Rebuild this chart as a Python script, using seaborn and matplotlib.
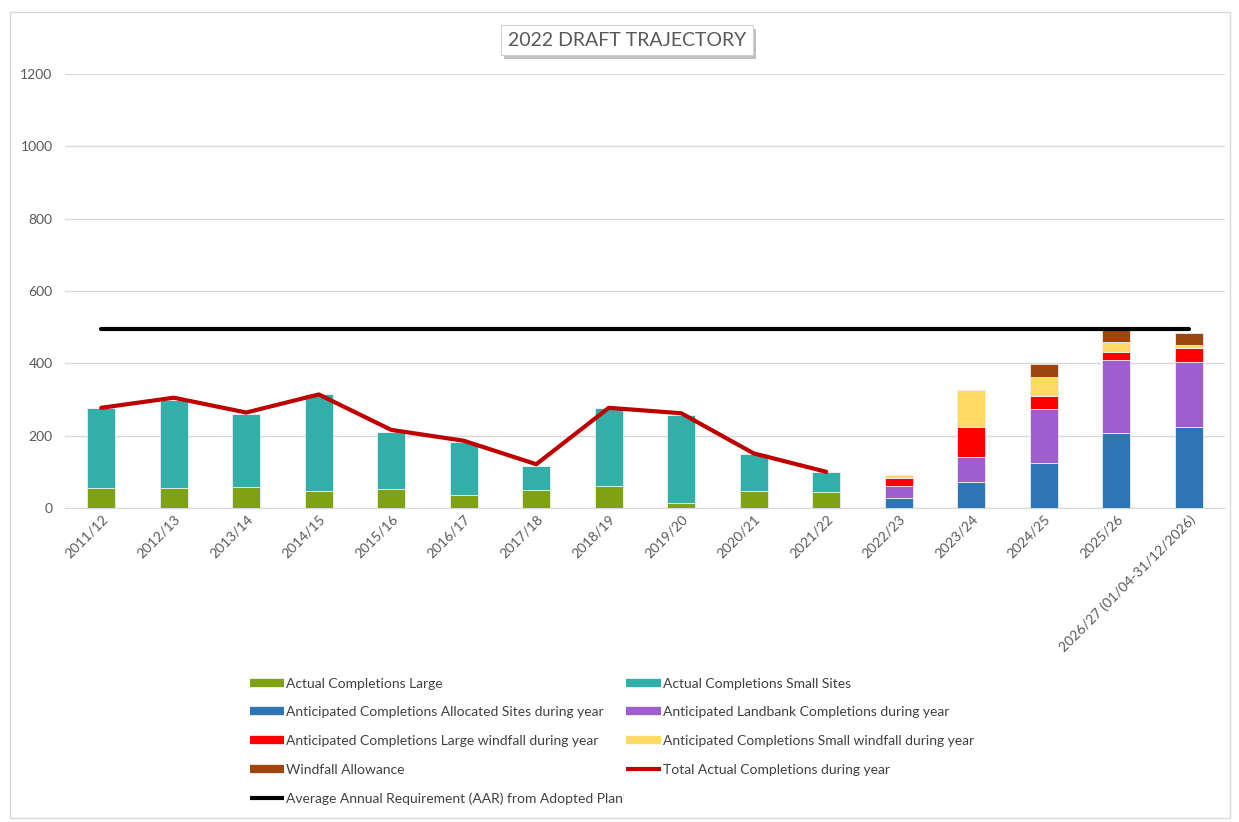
import numpy as np
import pandas as pd
import matplotlib
matplotlib.use("Agg")
import matplotlib.pyplot as plt
import matplotlib.patheffects as pe
from matplotlib.lines import Line2D
from matplotlib.patches import Rectangle
import seaborn as sns

# --- data ---
years = ["2011/12", "2012/13", "2013/14", "2014/15", "2015/16", "2016/17", "2017/18",
         "2018/19", "2019/20", "2020/21", "2021/22", "2022/23", "2023/24", "2024/25",
         "2025/26", "2026/27 (01/04-31/12/2026)"]

actual_large = [54, 54, 57, 48, 52, 37, 50, 62, 15, 48, 45, 0, 0, 0, 0, 0]
actual_small = [222, 245, 203, 266, 159, 146, 67, 214, 243, 100, 55, 0, 0, 0, 0, 0]
allocated = [0, 0, 0, 0, 0, 0, 0, 0, 0, 0, 0, 28, 72, 125, 206, 225]
landbank = [0, 0, 0, 0, 0, 0, 0, 0, 0, 0, 0, 34, 68, 148, 202, 178]
large_windfall = [0, 0, 0, 0, 0, 0, 0, 0, 0, 0, 0, 20, 85, 36, 24, 40]
small_windfall = [0, 0, 0, 0, 0, 0, 0, 0, 0, 0, 0, 9, 101, 52, 26, 7]
windfall_allowance = [0, 0, 0, 0, 0, 0, 0, 0, 0, 0, 0, 0, 0, 37, 34, 33]
total_actual = [277, 305, 264, 314, 216, 186, 121, 277, 262, 151, 100]
aar = [495] * len(years)

layers = [
    ("Actual Completions Large", actual_large, "#7FA114"),
    ("Actual Completions Small Sites", actual_small, "#33AFA9"),
    ("Anticipated Completions Allocated Sites during year", allocated, "#2E75B6"),
    ("Anticipated Landbank Completions during year", landbank, "#9E5ECE"),
    ("Anticipated Completions Large windfall during year", large_windfall, "#FF0000"),
    ("Anticipated Completions Small windfall during year", small_windfall, "#FFD966"),
    ("Windfall Allowance", windfall_allowance, "#9C450E"),
]

sns.set_style("white")
plt.rcParams["font.family"] = ["Lato", "DejaVu Sans"]

fig = plt.figure(figsize=(12.39, 8.22), dpi=100)
ax = fig.add_axes([65 / 1239, 1 - 508 / 822, 1160 / 1239, 434 / 822])

# stacked bars, one seaborn call per layer
bottom = np.zeros(len(years))
for name, vals, col in layers:
    df = pd.DataFrame({"year": years, "value": vals})
    sns.barplot(data=df, x="year", y="value", color=col, saturation=1, width=0.39,
                bottom=bottom.copy(), edgecolor="#E8F0F0", linewidth=0.6, ax=ax, zorder=3)
    bottom += np.array(vals)

idx = np.arange(len(years))
sns.lineplot(x=idx[:len(total_actual)], y=total_actual, color="#C00000", lw=3, ax=ax, zorder=4)
sns.lineplot(x=idx, y=aar, color="black", lw=3, ax=ax, zorder=4)

ax.set_xlim(-0.5, len(years) - 0.5)
ax.set_ylim(0, 1200)
ax.set_yticks(range(0, 1201, 200))
ax.yaxis.grid(True, color="#D9D9D9", lw=1)
ax.set_axisbelow(True)
for s in ["top", "right", "left"]:
    ax.spines[s].set_visible(False)
ax.spines["bottom"].set_color("#D9D9D9")
ax.set_xlabel("")
ax.set_ylabel("")
ax.tick_params(axis="both", length=0, colors="#595959", labelsize=10)
ax.tick_params(axis="y", pad=9)
plt.setp(ax.get_xticklabels(), rotation=45, ha="right", rotation_mode="anchor")

# title in a box with a shadow
t = fig.text(627 / 1239, 1 - 40 / 822, "2022 DRAFT TRAJECTORY", ha="center", va="center",
             fontsize=14, color="#595959",
             bbox=dict(boxstyle="square,pad=0.35", fc="white", ec="#D0D0D0", lw=0.8))
t.get_bbox_patch().set_path_effects([pe.SimplePatchShadow(offset=(2, -3), alpha=0.35), pe.Normal()])

# legend, excel style (row-wise order)
h = {name: Line2D([], [], color=col, lw=6, solid_capstyle="butt") for name, _, col in layers}
h["Total Actual Completions during year"] = Line2D([], [], color="#C00000", lw=3, solid_capstyle="butt")
h["Average Annual Requirement (AAR) from Adopted Plan"] = Line2D([], [], color="black", lw=3, solid_capstyle="butt")
order = ["Actual Completions Large",
         "Anticipated Completions Allocated Sites during year",
         "Anticipated Completions Large windfall during year",
         "Windfall Allowance",
         "Average Annual Requirement (AAR) from Adopted Plan",
         "Actual Completions Small Sites",
         "Anticipated Landbank Completions during year",
         "Anticipated Completions Small windfall during year",
         "Total Actual Completions during year"]
fig.legend([h[k] for k in order], order, ncol=2, loc="upper left",
           bbox_to_anchor=(237 / 1239, 1 - 665 / 822), frameon=False, fontsize=10,
           labelcolor="#404040", handlelength=2.5, handletextpad=0.15,
           labelspacing=1.2, columnspacing=0.2)

fig.add_artist(Rectangle((10 / 1239, 4 / 822), 1220 / 1239, 806 / 822,
                         transform=fig.transFigure, fill=False, ec="#D9D9D9", lw=1))

plt.savefig("out.png", dpi=100)
